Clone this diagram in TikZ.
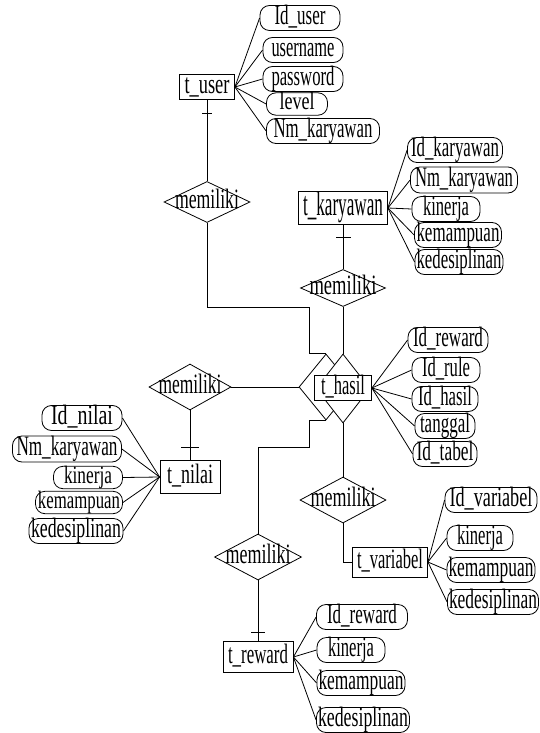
\documentclass[tikz,border=0pt]{standalone}
\usepackage{fontspec}
\usepackage{graphicx}
\setmainfont{Liberation Serif}
\usetikzlibrary{shapes.geometric,calc}

% squeeze a label horizontally to a given width (in pt)
\newcommand\tw[2]{\resizebox{#1pt}{\height}{#2}}

\tikzset{
  base/.style={draw, line width=0.8pt, inner sep=0pt, fill=white,
    text height=19pt, text depth=6pt,
    font=\fontsize{28}{28}\selectfont},
  attr/.style={base, rounded corners=9.5pt},
  ent/.style={base, rectangle},
  rel/.style={base, diamond},
  link/.style={line width=0.8pt},
  wh/.style 2 args={minimum width=#1pt, minimum height=#2pt},
  smaller/.style={font=\fontsize{25}{25}\selectfont, text height=17pt, text depth=5.4pt},
}

\begin{document}
\begin{tikzpicture}[x=1pt, y=-1pt]
\useasboundingbox (0,0) rectangle (539,733);

% ---------- t_user ----------
\node[ent, wh={55}{23}] (tu) at (207,87) {\tw{45}{t\_user}};
\node[attr, wh={80}{23}] (u1) at (300,18)  {\tw{51}{Id\_user}};
\node[attr, wh={80}{24}] (u2) at (303,50)  {\tw{63}{username}};
\node[attr, wh={80}{22}] (u3) at (303,79)  {\tw{63}{password}};
\node[attr, wh={61}{19}, smaller] (u4) at (297,104) {\tw{35}{level}};
\node[attr, wh={113}{22}] (u5) at (323,131) {\tw{99}{Nm\_karyawan}};
\foreach \a in {u1,u2,u3,u4,u5} \draw[link] (tu.east) -- (\a.west);

\node[rel, wh={86}{41}] (ru) at (207,202) {\makebox[0pt]{\tw{64}{memiliki}}};

% ---------- t_karyawan ----------
\node[ent, wh={89}{33}, font=\fontsize{34}{34}\selectfont,
      text height=23pt, text depth=7.5pt] (tk) at (343,208) {\tw{80}{t\_karyawan}};
\node[attr, wh={95}{24}] (k1) at (455,150) {\tw{88}{Id\_karyawan}};
\node[attr, wh={107}{26}] (k2) at (464,180) {\tw{98}{Nm\_karyawan}};
\node[attr, wh={68}{21}] (k3) at (446,209) {\tw{46}{kinerja}};
\node[attr, wh={87}{21}] (k4) at (458,235) {\tw{83}{kemampuan}};
\node[attr, wh={88}{21}] (k5) at (459,262) {\tw{85}{kedesiplinan}};
\foreach \a in {k1,k2,k3,k4,k5} \draw[link] (tk.east) -- (\a.west);

\node[rel, wh={85}{37}] (rk) at (343,288) {\makebox[0pt]{\tw{67}{memiliki}}};

% ---------- t_hasil with the two diamonds behind it ----------
\node[rel, wh={54}{66}] (hd1) at (326,387) {};
\node[rel, wh={54}{69}] (hd2) at (343,388.5) {};
\node[ent, wh={57}{23}] (th) at (343,388) {\tw{44}{t\_hasil}};
\node[attr, wh={80}{24}] (h1) at (448,340) {\tw{70}{Id\_reward}};
\node[attr, wh={68}{25}] (h2) at (446,370) {\tw{48}{Id\_rule}};
\node[attr, wh={66}{22}] (h3) at (445,399) {\tw{54}{Id\_hasil}};
\node[attr, wh={60}{22}] (h4) at (445,426) {\tw{50}{tanggal}};
\node[attr, wh={64}{25}] (h5) at (445,454) {\tw{57}{Id\_tabel}};
\foreach \a in {h1,h2,h3,h4,h5} \draw[link] (th.east) -- (\a.west);

% ---------- t_nilai ----------
\node[rel, wh={82}{46}] (rn) at (190,387) {\makebox[0pt]{\tw{63}{memiliki}}};
\node[ent, wh={60}{33}] (tn) at (190,477) {\tw{46}{t\_nilai}};
\node[attr, wh={80}{24}] (n1) at (82,418)  {\tw{62}{Id\_nilai}};
\node[attr, wh={109}{26}] (n2) at (67,449) {\tw{101}{Nm\_karyawan}};
\node[attr, wh={69}{22}, smaller] (n3) at (88,477.5)  {\tw{48}{kinerja}};
\node[attr, wh={87}{21}, smaller] (n4) at (79,502.5)  {\tw{82}{kemampuan}};
\node[attr, wh={94}{22}] (n5) at (76,531)  {\tw{90}{kedesiplinan}};
\foreach \a in {n1,n2,n3,n4,n5} \draw[link] (tn.west) -- (\a.east);

% ---------- t_variabel ----------
\node[rel, wh={86}{46}] (rv) at (343,500) {\makebox[0pt]{\tw{65}{memiliki}}};
\node[ent, wh={75}{30}] (tv) at (390,562) {\tw{66}{t\_variabel}};
\node[attr, wh={92}{24}] (v1) at (491,500) {\tw{83}{Id\_variabel}};
\node[attr, wh={66}{23}] (v2) at (480,538) {\tw{46}{kinerja}};
\node[attr, wh={88}{21}] (v3) at (491,570) {\tw{85}{kemampuan}};
\node[attr, wh={91}{23}] (v4) at (493,602) {\tw{88}{kedesiplinan}};
\foreach \a in {v1,v2,v3,v4} \draw[link] (tv.east) -- (\a.west);

% ---------- t_reward ----------
\node[rel, wh={87}{46}] (rr) at (258,557) {\makebox[0pt]{\tw{65}{memiliki}}};
\node[ent, wh={70}{31}] (tr) at (258,657) {\tw{60}{t\_reward}};
\node[attr, wh={91}{24}] (w1) at (362,617) {\tw{70}{Id\_reward}};
\node[attr, wh={68}{20}] (w2) at (351,650) {\tw{46}{kinerja}};
\node[attr, wh={88}{22}] (w3) at (361,683) {\tw{85}{kemampuan}};
\node[attr, wh={93}{24}] (w4) at (363,720) {\tw{90}{kedesiplinan}};
\foreach \a in {w1,w2,w3,w4} \draw[link] (tr.east) -- (\a.west);

% ---------- relationship connectors ----------
\coordinate (j1) at (309,307);
\coordinate (j2) at (309,447);

\draw[link] (tu.south) -- (ru.north);
\draw[link] ($(tu.south)+(-5,14)$) -- ($(tu.south)+(5,14)$);
\draw[link] (ru.south) |- (j1) |- (hd1.north);

\draw[link] (tk.south) -- (rk.north);
\draw[link] ($(tk.south)+(-7,12)$) -- ($(tk.south)+(8,12)$);
\draw[link] (rk.south) -- (hd2.north);

\draw[link] (rn.east) -- (hd1.west);
\draw[link] (rn.south) -- (tn.north);
\draw[link] ($(tn.north)+(-9,-13)$) -- ($(tn.north)+(9,-13)$);

\draw[link] (hd2.south) -- (rv.north);
\draw[link] (rv.south) |- (tv.west);

\draw[link] (rr.north) |- (j2) |- (hd1.south);
\draw[link] (rr.south) -- (tr.north);
\draw[link] ($(tr.north)+(-7,-9)$) -- ($(tr.north)+(7,-9)$);
\end{tikzpicture}
\end{document}
